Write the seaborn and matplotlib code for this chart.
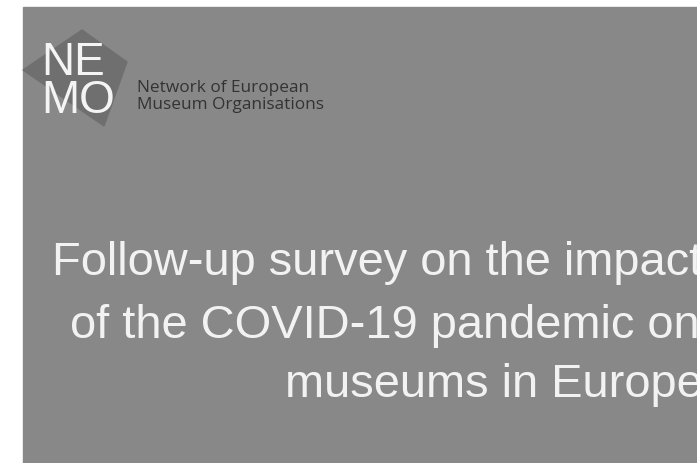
import matplotlib
matplotlib.use("Agg")
import matplotlib.pyplot as plt
import seaborn as sns
from matplotlib.patches import Rectangle, Polygon

# cover page texts
logo_lines = ["NE", "MO"]
org_lines = ["Network of European", "Museum Organisations"]
title_lines = [
    "Follow-up survey on the impact",
    "of the COVID-19 pandemic on",
    "museums in Europe",
]

sns.set_style("white")
plt.rcParams["font.family"] = ["Liberation Sans", "DejaVu Sans"]

W, H = 697, 463
fig = plt.figure(figsize=(W / 100, H / 100), dpi=100)
ax = fig.add_axes([0, 0, 1, 1])
ax.set_xlim(0, W)
ax.set_ylim(H, 0)
ax.axis("off")

# grey page
ax.add_patch(Rectangle((23, 7), W - 23, H - 7, color="#888888", zorder=0))

# logo diamond
diamond = Polygon([(82, 30), (127, 62), (104, 126), (23, 70)],
                  closed=True, color="#6f6f6f", zorder=1)
diamond.set_clip_path(Rectangle((23, 7), W - 23, H - 7, transform=ax.transData))
ax.add_patch(diamond)

for i, s in enumerate(logo_lines):
    ax.text(41, 75 + i * 38, s, fontsize=33, color="#f4f4f4",
            ha="left", va="baseline", zorder=2)

for i, s in enumerate(org_lines):
    ax.text(137, 92 + i * 17, s, fontsize=12.4, color="#333333",
            family=["Open Sans", "DejaVu Sans"], ha="left", va="baseline", zorder=2)

# title lines are right aligned in the original and run off the page edge
title_x = [52, 70, 285]
title_y = [275, 338, 397]
for s, x, y in zip(title_lines, title_x, title_y):
    ax.text(x, y, s, fontsize=33.8, color="#f2f2f2",
            ha="left", va="baseline", zorder=2)

fig.savefig("out.png", dpi=100)
